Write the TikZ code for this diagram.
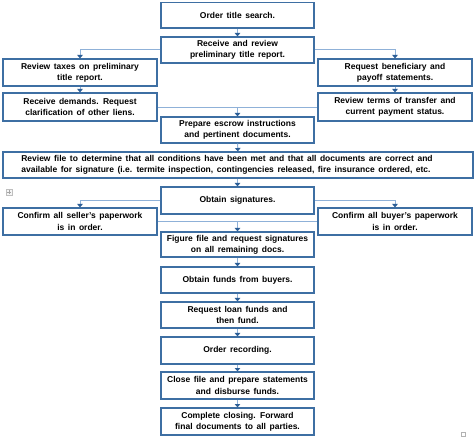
\documentclass[tikz,border=0pt]{standalone}
\usepackage{fontspec}
\setmainfont[WordSpace=1.5]{Liberation Sans}
\usetikzlibrary{arrows.meta}
\definecolor{boxblue}{HTML}{3E6FA3}
\definecolor{tipblue}{HTML}{2C5E96}
\definecolor{lineblue}{HTML}{8FB1D8}
\tikzset{
  box/.style={draw=boxblue, line width=1.2pt, fill=white, minimum height=26pt, inner sep=1pt,
    align=center, font=\fontsize{8.5}{11.3}\selectfont\bfseries, text=black},
  cbox/.style={box, minimum width=153pt},
  sbox/.style={box, minimum width=154pt},
  wbox/.style={box, minimum width=470pt},
  conn/.style={draw=lineblue, line width=1pt, -{Triangle[width=5.5pt,length=3.4pt,color=tipblue,fill=tipblue]}},
  link/.style={draw=lineblue, line width=1pt},
}
\begin{document}
\begin{tikzpicture}[x=1pt,y=1pt]
\useasboundingbox[fill=white] (0,0) rectangle (474,-438);
% center column
\node[cbox, minimum height=25.5pt] (order) at (237.5,-15.3) {Order title search.};
\node[cbox] (receive) at (237.5,-50) {Receive and review\\preliminary title report.};
\node[sbox, minimum height=27pt] (taxes) at (80,-72.5) {Review taxes on preliminary\\title report.};
\node[sbox, minimum height=27pt] (benef) at (395,-72.5) {Request beneficiary and\\payoff statements.};
\node[sbox, minimum height=28pt] (demands) at (80,-107) {Receive demands. Request\\clarification of other liens.};
\node[sbox, minimum height=28pt] (terms) at (395,-107) {Review terms of transfer and\\current payment status.};
\node[cbox] (escrow) at (237.5,-130) {Prepare escrow instructions\\and pertinent documents.};
\node[wbox] (review) at (238,-165) {Review file to determine that all conditions have been met and that all documents are correct and\hspace*{22pt}\\available for signature (i.e. termite inspection, contingencies released, fire insurance ordered, etc.\hspace*{24pt}};
\node[cbox, minimum height=27pt] (obtain) at (237.5,-200.5) {Obtain signatures.};
\node[sbox, minimum height=27pt] (seller) at (80,-221.5) {Confirm all seller's paperwork\\is in order.};
\node[sbox, minimum height=27pt] (buyer) at (395,-221.5) {Confirm all buyer's paperwork\\is in order.};
\node[cbox, minimum height=25pt] (figure) at (237.5,-244.5) {Figure file and request signatures\\on all remaining docs.};
\node[cbox] (funds) at (237.5,-280) {Obtain funds from buyers.};
\node[cbox] (loan) at (237.5,-315) {Request loan funds and\\then fund.};
\node[cbox, minimum height=27pt] (recording) at (237.5,-350.5) {Order recording.};
\node[cbox, minimum height=27pt] (close) at (237.5,-385.5) {Close file and prepare statements\\and disburse funds.};
\node[cbox, minimum height=27pt] (complete) at (237.5,-421.5) {Complete closing. Forward\\final documents to all parties.};
% junction points
\coordinate (j1) at (237.5,-108);
\coordinate (j2) at (237.5,-222);
% connectors
\draw[conn] (order) -- (receive);
\draw[conn] (receive.west) -| (taxes.north);
\draw[conn] (receive.east) -| (benef.north);
\draw[conn] (taxes) -- (demands);
\draw[conn] (benef) -- (terms);
\draw[link] (demands.east |- j1) -- (terms.west |- j1);
\draw[conn] (j1) -- (escrow.north);
\draw[conn] (escrow) -- (review);
\draw[conn] (review.south -| obtain) -- (obtain.north);
\draw[conn] (obtain.west) -| (seller.north);
\draw[conn] (obtain.east) -| (buyer.north);
\draw[link] (seller.east |- j2) -- (buyer.west |- j2);
\draw[conn] (j2) -- (figure.north);
\draw[conn] (figure) -- (funds);
\draw[conn] (funds) -- (loan);
\draw[conn] (loan) -- (recording);
\draw[conn] (recording) -- (close);
\draw[conn] (close) -- (complete);
% small icons
\node[draw=gray!50, fill=gray!8, minimum size=6pt, inner sep=0pt] (plus) at (9,-192) {};
\draw[gray!70, line width=0.6pt] ([xshift=-1.8pt]plus.center) -- ([xshift=1.8pt]plus.center) ([yshift=-1.8pt]plus.center) -- ([yshift=1.8pt]plus.center);
\node[draw=gray!60, minimum size=3.5pt, inner sep=0pt] (sq) at (463,-434) {};
\end{tikzpicture}
\end{document}
